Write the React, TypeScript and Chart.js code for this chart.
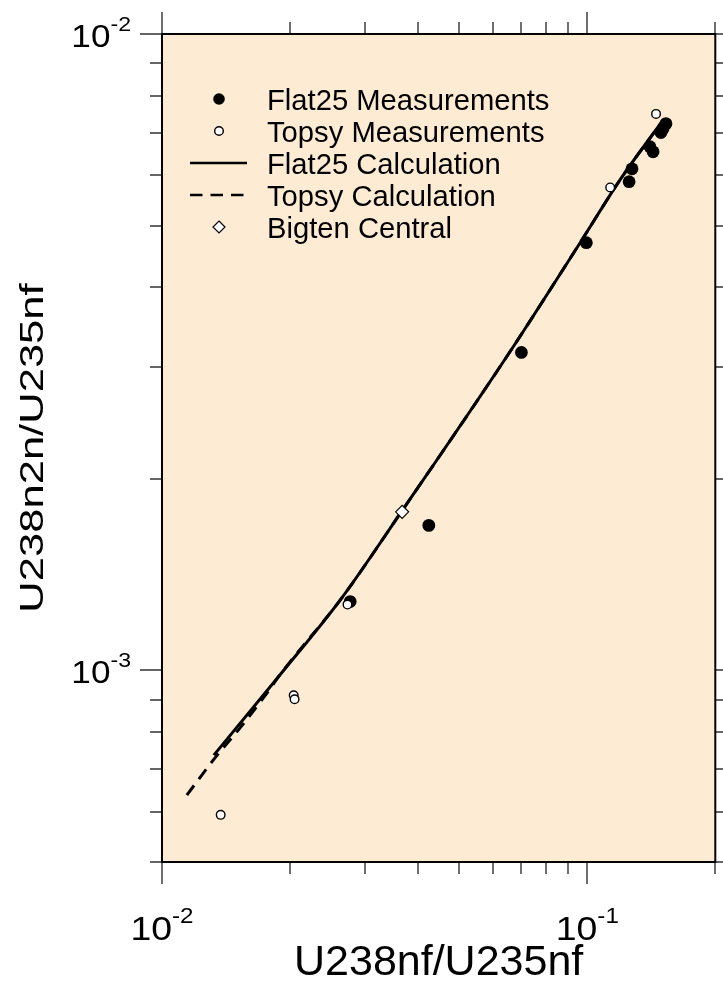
import { useEffect, useRef } from "react";
import { Chart, registerables } from "chart.js";

Chart.register(...registerables);

// Measured ratios
const flat25MeasX = [0.1531, 0.1507, 0.149, 0.1404, 0.1428, 0.1274, 0.1254, 0.0995, 0.07, 0.0424, 0.0277];
const flat25MeasY = [7.23e-3, 7.1e-3, 7.0e-3, 6.65e-3, 6.53e-3, 6.14e-3, 5.86e-3, 4.7e-3, 3.16e-3, 1.69e-3, 1.283e-3];
const topsyMeasX = [0.1451, 0.1132, 0.0273, 0.0204, 0.0205, 0.01374];
const topsyMeasY = [7.49e-3, 5.74e-3, 1.269e-3, 9.14e-4, 9.01e-4, 5.93e-4];
const bigtenX = [0.0367];
const bigtenY = [1.775e-3];

// Calculated curves
const flat25CalcX = [0.01324, 0.01889, 0.0264, 0.03667, 0.06568, 0.0963, 0.1195, 0.1498];
const flat25CalcY = [7.36e-4, 9.82e-4, 1.297e-3, 1.781e-3, 3.162e-3, 4.704e-3, 5.904e-3, 7.28e-3];
const topsyCalcX = [0.01144, 0.01331, 0.01523, 0.01771, 0.01889, 0.0264, 0.03667, 0.06568, 0.0963, 0.1195, 0.1498];
const topsyCalcY = [6.37e-4, 7.28e-4, 8.11e-4, 9.24e-4, 9.82e-4, 1.297e-3, 1.781e-3, 3.162e-3, 4.704e-3, 5.904e-3, 7.28e-3];

// Axis ranges and ticks
const xRange = [0.01, 0.2];
const yRange = [5e-4, 1e-2];
const xMajorTicks = [0.01, 0.1];
const xMajorExps = ["-2", "-1"];
const xMinorTicks = [0.02, 0.03, 0.04, 0.05, 0.06, 0.07, 0.08, 0.09, 0.2];
const yMajorTicks = [1e-3, 1e-2];
const yMajorExps = ["-3", "-2"];
const yMinorTicks = [5e-4, 6e-4, 7e-4, 8e-4, 9e-4, 2e-3, 3e-3, 4e-3, 5e-3, 6e-3, 7e-3, 8e-3, 9e-3];

const xTitle = "U238nf/U235nf";
const yTitle = "U238n2n/U235nf";

const legendLabels = [
  "Flat25 Measurements",
  "Topsy Measurements",
  "Flat25 Calculation",
  "Topsy Calculation",
  "Bigten Central",
];
const legendKinds = ["filled", "open", "solid", "dashed", "diamond"];

const FONT = '"Liberation Sans", Arial, Helvetica, sans-serif';
const PLOT_BG = "rgb(253,236,211)";

const zip = (xs: number[], ys: number[]) => xs.map((x, i) => ({ x, y: ys[i] }));

function drawText(
  ctx: CanvasRenderingContext2D,
  s: string,
  x: number,
  y: number,
  size: number,
  align: CanvasTextAlign,
  sx = 1,
  sy = 1,
  rot = 0
) {
  ctx.save();
  ctx.translate(x, y);
  if (rot) ctx.rotate(rot);
  ctx.scale(sx, sy);
  ctx.font = `${size}px ${FONT}`;
  ctx.textAlign = align;
  ctx.textBaseline = "alphabetic";
  ctx.fillStyle = "#000";
  ctx.fillText(s, 0, 0);
  ctx.restore();
}

// "10" with a raised exponent
function drawPower(
  ctx: CanvasRenderingContext2D,
  exp: string,
  ax: number,
  baseY: number,
  align: "center" | "right",
  baseSize: number,
  expSize: number,
  raise: number,
  sx: number
) {
  ctx.save();
  ctx.font = `${baseSize}px ${FONT}`;
  const wb = ctx.measureText("10").width * sx;
  ctx.font = `${expSize}px ${FONT}`;
  const we = ctx.measureText(exp).width * sx;
  ctx.restore();
  const total = wb + we;
  const left = align === "right" ? ax - total : ax - total / 2;
  drawText(ctx, "10", left, baseY, baseSize, "left", sx, 1);
  drawText(ctx, exp, left + wb, baseY - raise, expSize, "left", sx, 1);
}

const framePlugin = {
  id: "frame",
  beforeDraw(chart: any) {
    const { ctx, chartArea: a } = chart;
    ctx.save();
    ctx.fillStyle = "#fff";
    ctx.fillRect(0, 0, chart.width, chart.height);
    ctx.fillStyle = PLOT_BG;
    ctx.fillRect(a.left, a.top, a.right - a.left, a.bottom - a.top);
    ctx.restore();
  },
  afterDraw(chart: any) {
    const { ctx, chartArea: a } = chart;
    const xs = chart.scales.x;
    const ys = chart.scales.y;
    const MAJ = 22;
    const MIN = 12;

    ctx.save();
    ctx.strokeStyle = "#333";
    ctx.lineWidth = 1.4;
    ctx.beginPath();
    const xTick = (v: number, len: number) => {
      const px = Math.round(xs.getPixelForValue(v));
      ctx.moveTo(px, a.bottom);
      ctx.lineTo(px, a.bottom + len);
      ctx.moveTo(px, a.top);
      ctx.lineTo(px, a.top - len);
    };
    const yTick = (v: number, len: number) => {
      const py = Math.round(ys.getPixelForValue(v));
      ctx.moveTo(a.left, py);
      ctx.lineTo(a.left - len, py);
      ctx.moveTo(a.right, py);
      ctx.lineTo(a.right + len, py);
    };
    xMajorTicks.forEach((v) => xTick(v, MAJ));
    xMinorTicks.forEach((v) => xTick(v, MIN));
    yMajorTicks.forEach((v) => yTick(v, MAJ));
    yMinorTicks.forEach((v) => yTick(v, MIN));
    ctx.stroke();

    ctx.strokeStyle = "#000";
    ctx.lineWidth = 2;
    ctx.strokeRect(a.left, a.top, a.right - a.left, a.bottom - a.top);
    ctx.restore();

    // tick labels
    xMajorTicks.forEach((v, i) => {
      const px = xs.getPixelForValue(v);
      drawPower(ctx, xMajorExps[i], px, a.bottom + 78, "center", 34, 22, 17, 1.1);
    });
    yMajorTicks.forEach((v, i) => {
      const py = ys.getPixelForValue(v);
      drawPower(ctx, yMajorExps[i], a.left - 31, py + 13, "right", 32, 21, 16, 1.1);
    });

    // axis titles
    drawText(ctx, xTitle, (a.left + a.right) / 2, 975, 43, "center");
    drawText(ctx, yTitle, 43, (a.top + a.bottom) / 2, 32.5, "center", 1.34, 1, -Math.PI / 2);

    // legend
    const lx = 219;
    const tx = 267;
    legendLabels.forEach((label, i) => {
      const cy = 99 + i * 32;
      const kind = legendKinds[i];
      ctx.save();
      ctx.strokeStyle = "#000";
      ctx.fillStyle = "#000";
      if (kind === "filled") {
        ctx.beginPath();
        ctx.arc(lx, cy, 5.8, 0, Math.PI * 2);
        ctx.fill();
      } else if (kind === "open") {
        ctx.beginPath();
        ctx.arc(lx, cy, 4.3, 0, Math.PI * 2);
        ctx.fillStyle = "#fff";
        ctx.fill();
        ctx.lineWidth = 1.4;
        ctx.stroke();
      } else if (kind === "solid" || kind === "dashed") {
        ctx.lineWidth = 2.6;
        if (kind === "dashed") ctx.setLineDash([12.5, 8]);
        ctx.beginPath();
        ctx.moveTo(190, cy);
        ctx.lineTo(247, cy);
        ctx.stroke();
      } else {
        ctx.beginPath();
        ctx.moveTo(lx, cy - 6);
        ctx.lineTo(lx + 6, cy);
        ctx.lineTo(lx, cy + 6);
        ctx.lineTo(lx - 6, cy);
        ctx.closePath();
        ctx.fillStyle = "#fff";
        ctx.fill();
        ctx.lineWidth = 1.2;
        ctx.stroke();
      }
      ctx.restore();
      drawText(ctx, label, tx, cy + 11, 29.8, "left", 0.98, 1);
    });
  },
};

export default function App() {
  const ref = useRef<HTMLCanvasElement>(null);

  useEffect(() => {
    const chart = new Chart(ref.current!, {
      type: "scatter",
      data: {
        datasets: [
          {
            label: "Topsy Measurements",
            data: zip(topsyMeasX, topsyMeasY),
            pointStyle: "circle",
            pointRadius: 4.3,
            pointBackgroundColor: "#fff",
            pointBorderColor: "#000",
            pointBorderWidth: 1.4,
          },
          {
            label: "Flat25 Measurements",
            data: zip(flat25MeasX, flat25MeasY),
            pointStyle: "circle",
            pointRadius: 6.4,
            pointBackgroundColor: "#000",
            pointBorderColor: "#000",
            pointBorderWidth: 0,
          },
          {
            label: "Bigten Central",
            data: zip(bigtenX, bigtenY),
            pointStyle: "rectRot",
            pointRadius: 6.5,
            pointBackgroundColor: "#fff",
            pointBorderColor: "#000",
            pointBorderWidth: 1.2,
          },
          {
            label: "Flat25 Calculation",
            data: zip(flat25CalcX, flat25CalcY),
            showLine: true,
            pointRadius: 0,
            borderColor: "#000",
            borderWidth: 3,
            cubicInterpolationMode: "monotone",
          },
          {
            label: "Topsy Calculation",
            data: zip(topsyCalcX, topsyCalcY),
            showLine: true,
            pointRadius: 0,
            borderColor: "#000",
            borderWidth: 3,
            borderDash: [12, 8],
            cubicInterpolationMode: "monotone",
          },
        ],
      },
      options: {
        responsive: false,
        animation: false,
        devicePixelRatio: 1,
        events: [],
        layout: { padding: { left: 162, top: 34, right: 5, bottom: 119 } },
        scales: {
          x: { type: "logarithmic", min: xRange[0], max: xRange[1], display: false },
          y: { type: "logarithmic", min: yRange[0], max: yRange[1], display: false },
        },
        plugins: {
          legend: { display: false },
          tooltip: { enabled: false },
        },
      },
      plugins: [framePlugin],
    });
    return () => chart.destroy();
  }, []);

  return (
    <div style={{ position: "absolute", left: 0, top: 0, width: 723, height: 981, background: "#fff" }}>
      <canvas ref={ref} width={723} height={981} style={{ display: "block" }} />
    </div>
  );
}
